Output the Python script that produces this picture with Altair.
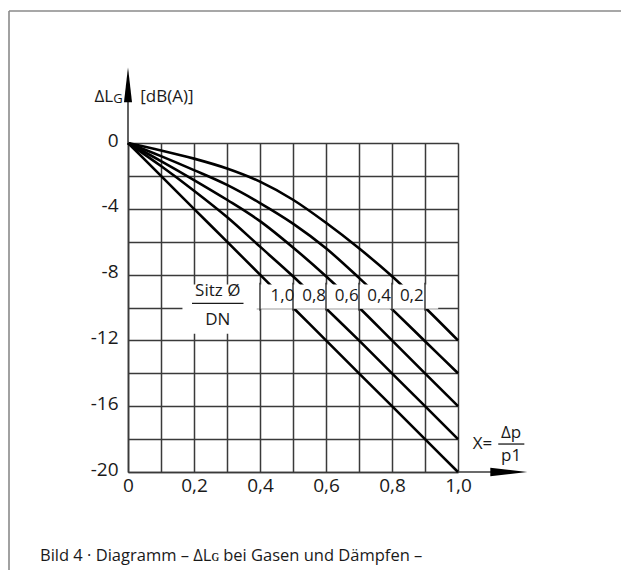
import altair as alt
import pandas as pd

# ---- data -------------------------------------------------------------
x_vals = [0.0, 0.1, 0.2, 0.3, 0.4, 0.5, 0.6, 0.7, 0.8, 0.9, 1.0]
dl_10 = [0, -2.0, -4.0, -6.0, -8.0, -10.0, -12.0, -14.0, -16.0, -18.0, -20.0]
dl_08 = [0, -1.4, -2.9, -4.5, -6.3, -8.1, -10.05, -12.0, -14.0, -16.0, -18.0]
dl_06 = [0, -1.1, -2.25, -3.45, -4.75, -6.35, -8.1, -10.0, -12.0, -14.0, -16.0]
dl_04 = [0, -0.8, -1.65, -2.55, -3.65, -4.9, -6.4, -8.2, -10.1, -12.05, -14.0]
dl_02 = [0, -0.45, -0.95, -1.55, -2.35, -3.45, -4.85, -6.4, -8.1, -10.0, -12.0]
series_names = ["1,0", "0,8", "0,6", "0,4", "0,2"]

label_x = [0.468, 0.564, 0.663, 0.761, 0.860]
label_y = [-9.3, -9.3, -9.3, -9.3, -9.3]

x_grid = [round(i * 0.1, 1) for i in range(11)]
y_grid = list(range(-20, 1, 2))

# white masks behind the in-plot labels
mask_x1 = [0.165, 0.385]
mask_x2 = [0.39, 0.94]
mask_y1 = [-8.6, -8.6]
mask_y2 = [-11.6, -10.08]
# vertical grid lines that stay visible through the label row
keep_x = [0.4, 0.5, 0.6, 0.7, 0.8, 0.9]

TITLE = "Bild 4 \u00b7 Diagramm \u2013 \u0394L\u0262 bei Gasen und D\u00e4mpfen \u2013"

# ---- tables ---------------------------------------------------------------
rows = []
for name, ys in zip(series_names, [dl_10, dl_08, dl_06, dl_04, dl_02]):
    for xv, yv in zip(x_vals, ys):
        rows.append({"x": xv, "y": yv, "s": name})
curves = pd.DataFrame(rows)
labels = pd.DataFrame({"x": label_x, "y": label_y, "t": series_names})
masks = pd.DataFrame({"x": mask_x1, "x2": mask_x2, "y": mask_y1, "y2": mask_y2})
keep = pd.DataFrame({"x": keep_x, "y": [-8.5] * len(keep_x), "y2": [-10.2] * len(keep_x)})

FONT = "Open Sans"
GRID = "#3a3a3a"
INK = "#1a1a1a"

xs = alt.Scale(domain=[0, 1], nice=False, zero=False)
ys = alt.Scale(domain=[-20, 0], nice=False, zero=False)

x_axis = alt.Axis(
    values=x_grid, grid=True, gridColor=GRID, gridWidth=1.5, gridOpacity=1,
    ticks=False, domain=True, domainColor=GRID, domainWidth=1.6,
    labelExpr="round(datum.value*10) % 2 == 1 ? '' : (datum.value == 0 ? '0' : replace(format(datum.value, '.1f'), '.', ','))",
    labelFont=FONT, labelFontSize=19, labelColor=INK, labelPadding=4,
    labelFlush=False, labelOverlap=False, title=None,
)
y_axis = alt.Axis(
    values=y_grid, grid=True, gridColor=GRID, gridWidth=1.5, gridOpacity=1,
    ticks=False, domain=True, domainColor=GRID, domainWidth=1.6,
    labelExpr="datum.value % 4 != 0 ? '' : '' + datum.value",
    labelFont=FONT, labelFontSize=19, labelColor=INK, labelPadding=10,
    labelOffset=-3, labelFlush=False, labelOverlap=False, title=None,
)

X = alt.X("x:Q", scale=xs, axis=x_axis)
Y = alt.Y("y:Q", scale=ys, axis=y_axis)

lines = alt.Chart(curves).mark_line(
    color="black", strokeWidth=2.6, interpolate="monotone"
).encode(x=X, y=Y, detail="s:N")

mask = alt.Chart(masks).mark_rect(color="white", opacity=1).encode(
    x=X, x2="x2:Q", y=Y, y2="y2:Q",
)
keep_lines = alt.Chart(keep).mark_rule(color=GRID, strokeWidth=1.5).encode(
    x=X, y=Y, y2="y2:Q"
)

def text_layer(df, align, size=17, dy=0):
    return alt.Chart(df).mark_text(
        font=FONT, fontSize=size, color=INK, baseline="middle", align=align, dy=dy
    ).encode(x=X, y=Y, text="t:N")

ratio_text = text_layer(labels, "center")

frac_txt = pd.DataFrame({"x": [0.272, 0.272], "y": [-9.0, -10.75], "t": ["Sitz \u00d8", "DN"]})
frac = text_layer(frac_txt, "center")
frac_bar = alt.Chart(pd.DataFrame({"x": [0.194], "x2": [0.350], "y": [-9.75]})).mark_rule(
    color=INK, strokeWidth=1.3
).encode(x=X, x2="x2:Q", y=Y)

# x-axis quantity label  X = Δp / p1
xq_left = text_layer(pd.DataFrame({"x": [1.104], "y": [-18.3], "t": ["X="]}), "right")
xq_frac = text_layer(pd.DataFrame({"x": [1.161, 1.161], "y": [-17.6, -19.0], "t": ["\u0394p", "p1"]}), "center")
xq_bar = alt.Chart(pd.DataFrame({"x": [1.122], "x2": [1.201], "y": [-18.3]})).mark_rule(
    color=INK, strokeWidth=1.3
).encode(x=X, x2="x2:Q", y=Y)

# y-axis quantity label  ΔLG [dB(A)]
yq_main = text_layer(pd.DataFrame({"x": [-0.045], "y": [2.8], "t": ["\u0394L"]}), "right")
yq_sub = text_layer(pd.DataFrame({"x": [-0.045], "y": [2.8], "t": ["G"]}), "left", size=13, dy=2)
yq_right = text_layer(pd.DataFrame({"x": [0.037], "y": [2.8], "t": ["[dB(A)]"]}), "left")

# axis extensions and arrow heads
ext = alt.Chart(pd.DataFrame({"x": [0.0, 1.0], "x2": [0.0, 1.1], "y": [0.0, -20.0], "y2": [2.6, -20.0]})).mark_rule(
    color=GRID, strokeWidth=1.6
).encode(x=X, x2="x2:Q", y=Y, y2="y2:Q")

arrow_up = alt.Chart(pd.DataFrame({"x": [0.0], "y": [3.54]})).mark_point(
    shape="M0,-1L0.23,1L-0.23,1Z", filled=True, color="black", opacity=1, size=1225, strokeWidth=0
).encode(x=X, y=Y)
arrow_right = alt.Chart(pd.DataFrame({"x": [1.154], "y": [-20.0]})).mark_point(
    shape="M1,0L-1,-0.23L-1,0.23Z", filled=True, color="black", opacity=1, size=1369, strokeWidth=0
).encode(x=X, y=Y)

# decorative frame and caption
frame_top = alt.Chart(pd.DataFrame({"k": [0]})).mark_rule(color="#8a8a8a", strokeWidth=1.6).encode(
    x=alt.value(-119), x2=alt.value(520), y=alt.value(-132))
frame_left = alt.Chart(pd.DataFrame({"k": [0]})).mark_rule(color="#8a8a8a", strokeWidth=1.6).encode(
    x=alt.value(-119), y=alt.value(-132), y2=alt.value(440))
caption = alt.Chart(pd.DataFrame({"t": [TITLE]})).mark_text(
    font=FONT, fontSize=16.5, color=INK, align="left", baseline="middle"
).encode(x=alt.value(-88), y=alt.value(413), text="t:N")

chart = alt.layer(
    lines, mask, keep_lines, ratio_text, frac, frac_bar, xq_left, xq_frac, xq_bar,
    yq_main, yq_sub, yq_right, ext, arrow_up, arrow_right, frame_top, frame_left, caption,
).properties(
    width=330, height=329,
    autosize=alt.AutoSizeParams(type="none"),
    padding={"left": 120, "top": 135, "right": 163, "bottom": 98},
    background="white",
).configure_view(stroke=None)

chart.save("out.html", embed_options={"renderer": "svg", "actions": False})
